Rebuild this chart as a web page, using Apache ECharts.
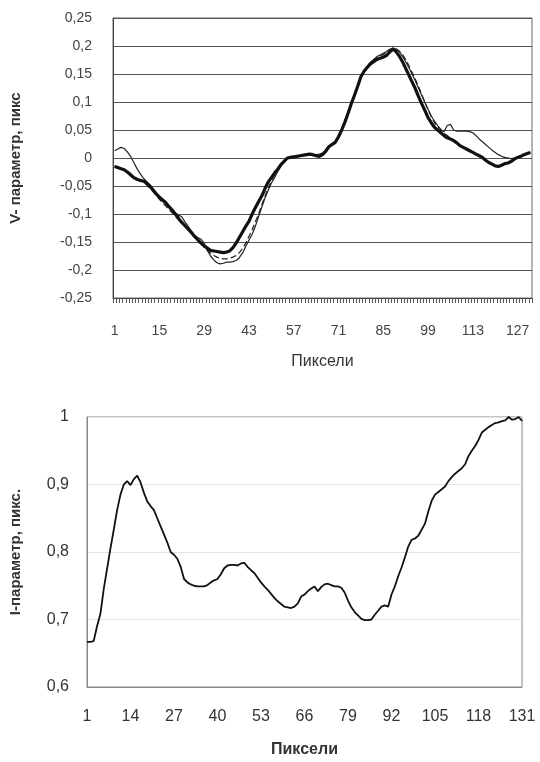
<!DOCTYPE html>
<html>
<head>
<meta charset="utf-8">
<script src="https://cdn.jsdelivr.net/npm/echarts@6/dist/echarts.min.js"></script>
<style>
  html, body { margin: 0; padding: 0; background: #fff; }
  #chart { width: 540px; height: 762px; }
</style>
</head>
<body>
<div id="chart"></div>
<script>
// pixel indices 1..131 for both plots
var pixels = [];
for (var i = 1; i <= 131; i++) pixels.push(String(i));

// top plot: V-parameter, three curves
var vThick = [
 -0.015,-0.017,-0.019,-0.021,-0.025,-0.030,-0.035,-0.038,-0.040,-0.041,
 -0.045,-0.050,-0.057,-0.064,-0.070,-0.075,-0.080,-0.087,-0.093,-0.100,
 -0.108,-0.115,-0.121,-0.127,-0.133,-0.140,-0.146,-0.152,-0.157,-0.161,
 -0.165,-0.166,-0.167,-0.168,-0.169,-0.168,-0.166,-0.160,-0.152,-0.142,
 -0.132,-0.122,-0.113,-0.100,-0.089,-0.078,-0.068,-0.055,-0.043,-0.035,
 -0.027,-0.020,-0.012,-0.006,0.000,0.001,0.002,0.003,0.004,0.005,
 0.006,0.007,0.006,0.004,0.003,0.006,0.012,0.020,0.024,0.028,
 0.038,0.050,0.064,0.080,0.097,0.112,0.128,0.145,0.155,0.162,
 0.168,0.172,0.176,0.178,0.180,0.183,0.189,0.195,0.190,0.182,
 0.172,0.160,0.148,0.136,0.124,0.110,0.097,0.085,0.072,0.063,
 0.055,0.050,0.045,0.040,0.036,0.034,0.031,0.027,0.022,0.019,
 0.016,0.013,0.010,0.007,0.004,0.001,-0.004,-0.008,-0.011,-0.014,
 -0.015,-0.013,-0.010,-0.009,-0.006,-0.002,0.001,0.003,0.006,0.008,
 0.010
];
var vThin = [
 0.013,0.016,0.019,0.017,0.011,0.003,-0.008,-0.019,-0.028,-0.036,
 -0.042,-0.048,-0.055,-0.062,-0.068,-0.073,-0.078,-0.085,-0.092,-0.098,
 -0.102,-0.105,-0.114,-0.122,-0.130,-0.138,-0.142,-0.145,-0.152,-0.165,
 -0.175,-0.182,-0.187,-0.189,-0.188,-0.186,-0.186,-0.185,-0.183,-0.178,
 -0.170,-0.158,-0.147,-0.136,-0.122,-0.105,-0.088,-0.072,-0.058,-0.045,
 -0.035,-0.024,-0.014,-0.006,-0.001,0.001,0.002,0.003,0.004,0.004,
 0.005,0.006,0.006,0.006,0.007,0.009,0.014,0.022,0.026,0.030,
 0.036,0.048,0.062,0.078,0.095,0.110,0.126,0.143,0.155,0.164,
 0.171,0.176,0.181,0.184,0.187,0.190,0.194,0.196,0.194,0.190,
 0.182,0.172,0.161,0.150,0.138,0.125,0.112,0.099,0.087,0.075,
 0.066,0.058,0.051,0.047,0.058,0.060,0.050,0.048,0.048,0.048,
 0.048,0.047,0.045,0.040,0.034,0.029,0.024,0.019,0.014,0.010,
 0.006,0.003,0.001,0.000,-0.001,0.000,0.001,0.003,0.006,0.008,
 0.010
];
var vDashed = [
 -0.014,-0.016,-0.018,-0.022,-0.027,-0.032,-0.036,-0.039,-0.041,-0.043,
 -0.048,-0.054,-0.060,-0.067,-0.074,-0.080,-0.086,-0.092,-0.098,-0.104,
 -0.110,-0.116,-0.122,-0.128,-0.135,-0.141,-0.147,-0.153,-0.159,-0.165,
 -0.170,-0.174,-0.177,-0.179,-0.180,-0.180,-0.179,-0.177,-0.174,-0.169,
 -0.162,-0.152,-0.140,-0.128,-0.114,-0.100,-0.084,-0.068,-0.054,-0.041,
 -0.030,-0.020,-0.012,-0.005,0.000,0.001,0.002,0.003,0.004,0.005,
 0.006,0.007,0.006,0.005,0.004,0.007,0.013,0.020,0.025,0.029,
 0.037,0.049,0.063,0.079,0.096,0.111,0.127,0.144,0.155,0.163,
 0.170,0.175,0.179,0.182,0.185,0.188,0.192,0.196,0.195,0.191,
 0.185,0.176,0.165,0.153,0.141,0.128,0.114,0.100,0.086,0.074,
 0.063,0.056,0.050,0.044,0.040,0.036,0.032,0.028,0.023,0.019,
 0.016,0.013,0.010,0.007,0.004,0.001,-0.003,-0.007,-0.010,-0.013,
 -0.014,-0.012,-0.009,-0.008,-0.005,-0.002,0.001,0.003,0.006,0.008,
 0.010
];

// bottom plot: I-parameter
var iParam = [
 0.667,0.667,0.668,0.690,0.708,0.745,0.775,0.805,0.833,0.862,
 0.885,0.900,0.905,0.899,0.908,0.913,0.903,0.888,0.875,0.868,
 0.862,0.850,0.838,0.826,0.814,0.800,0.796,0.790,0.778,0.760,
 0.755,0.752,0.750,0.749,0.749,0.749,0.751,0.755,0.758,0.760,
 0.767,0.776,0.780,0.781,0.781,0.780,0.783,0.784,0.778,0.773,
 0.769,0.762,0.755,0.749,0.744,0.738,0.732,0.727,0.723,0.719,
 0.718,0.717,0.719,0.724,0.734,0.737,0.742,0.746,0.749,0.742,
 0.748,0.752,0.753,0.751,0.749,0.749,0.747,0.740,0.728,0.718,
 0.711,0.706,0.701,0.699,0.699,0.700,0.707,0.713,0.719,0.721,
 0.719,0.737,0.749,0.764,0.777,0.792,0.808,0.818,0.820,0.824,
 0.833,0.842,0.860,0.876,0.885,0.889,0.893,0.897,0.905,0.911,
 0.916,0.920,0.924,0.930,0.942,0.950,0.957,0.966,0.977,0.981,
 0.985,0.988,0.991,0.992,0.994,0.995,1.000,0.996,0.997,1.000,
 0.994
];

var vTicks = [-0.25, 0.25, 0.05];
var iTicks = [0.6, 1, 0.1];

window.onload = function(){

var chart = echarts.init(document.getElementById('chart'));

function comma(v){
    return String(+v.toFixed(2)).replace('.', ',');
}

var option = {
    animation: false,
    backgroundColor: '#fff',
    textStyle: { fontFamily: 'Liberation Sans, Arial, sans-serif' },
    grid: [
    { left: 107, top: 18, width: 425, height: 280, show: true, borderColor: '#666', borderWidth: 1 },
    { left: 84, top: 417, width: 438, height: 270, show: true, borderColor: '#888', borderWidth: 1 }
    ],
    xAxis: [
    {
        gridIndex: 0,
        type: 'category',
        data: pixels,
        boundaryGap: true,
        name: 'Пиксели',
        nameLocation: 'middle',
        nameGap: 56,
        nameTextStyle: { fontSize: 16, color: '#333' },
        axisLine: { onZero: false, lineStyle: { color: '#444', width: 1 } },
        axisTick: { show: true, interval: 0, length: 5, lineStyle: { color: '#555' } },
        axisLabel: { interval: 13, margin: 26, fontSize: 14, color: '#444' }
    },
    {
        gridIndex: 1,
        type: 'category',
        data: pixels,
        boundaryGap: false,
        name: 'Пиксели',
        nameLocation: 'middle',
        nameGap: 55,
        nameTextStyle: { fontSize: 16, fontWeight: 'bold', color: '#333' },
        axisLine: { onZero: false, lineStyle: { color: '#888' } },
        axisTick: { show: false },
        axisLabel: { interval: 12, margin: 22, fontSize: 16, color: '#333' }
    }
    ],
    yAxis: [
    {
        gridIndex: 0,
        type: 'value',
        min: vTicks[0],
        max: vTicks[1],
        interval: vTicks[2],
        name: 'V- параметр, пикс',
        nameLocation: 'middle',
        nameGap: 90,
        nameTextStyle: { fontSize: 15, fontWeight: 'bold', color: '#333' },
        axisLine: { show: true, lineStyle: { color: '#444' } },
        axisTick: { show: false },
        splitLine: { show: true, lineStyle: { color: '#555', width: 1 } },
        axisLabel: { margin: 21, fontSize: 14, color: '#444', formatter: comma }
    },
    {
        gridIndex: 1,
        type: 'value',
        min: iTicks[0],
        max: iTicks[1],
        interval: iTicks[2],
        name: 'I-параметр, пикс.',
        nameLocation: 'middle',
        nameGap: 64,
        nameTextStyle: { fontSize: 15, fontWeight: 'bold', color: '#333' },
        axisLine: { show: true, lineStyle: { color: '#888' } },
        axisTick: { show: false },
        splitLine: { show: true, lineStyle: { color: '#e4e4e4', width: 1 } },
        axisLabel: { margin: 18, fontSize: 16, color: '#333', formatter: comma }
    }
    ],
    series: [
    {
        name: 'thin',
        type: 'line',
        xAxisIndex: 0, yAxisIndex: 0,
        data: vThin,
        showSymbol: false,
        lineStyle: { color: '#222', width: 1.2 }
    },
    {
        name: 'dashed',
        type: 'line',
        xAxisIndex: 0, yAxisIndex: 0,
        data: vDashed,
        showSymbol: false,
        lineStyle: { color: '#222', width: 1.2, type: [6, 3] }
    },
    {
        name: 'thick',
        type: 'line',
        xAxisIndex: 0, yAxisIndex: 0,
        data: vThick,
        showSymbol: false,
        lineStyle: { color: '#111', width: 3.2 }
    },
    {
        name: 'I',
        type: 'line',
        xAxisIndex: 1, yAxisIndex: 1,
        data: iParam,
        showSymbol: false,
        lineStyle: { color: '#111', width: 1.8 }
    }
    ]
};
chart.setOption(option);

}
</script>
</body>
</html>
